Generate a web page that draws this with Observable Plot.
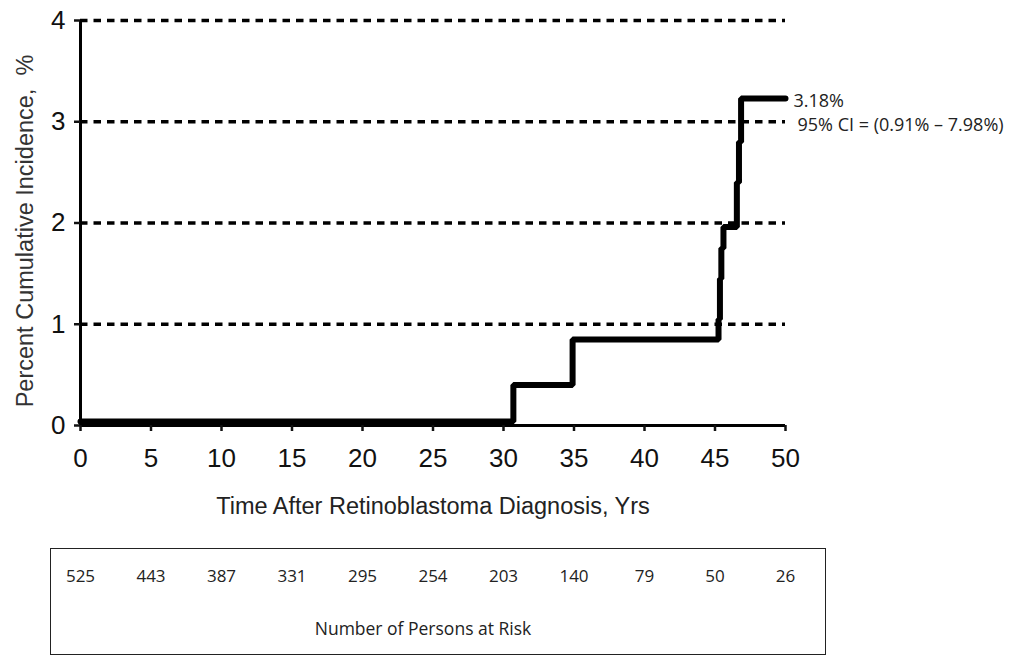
<!DOCTYPE html>
<html>
<head>
<meta charset="utf-8">
<script src="https://cdn.jsdelivr.net/npm/d3@7"></script>
<script src="https://cdn.jsdelivr.net/npm/@observablehq/plot@0.6"></script>
<style>
  html, body { margin: 0; padding: 0; background: #fff; }
  #wrap { position: relative; width: 1017px; height: 656px; }
  #risk { position: absolute; left: 50px; top: 548px; width: 774px; height: 105px; border: 1.5px solid #222; }
</style>
</head>
<body>
<div id="wrap">
  <div id="main"></div>
  <div id="risk"></div>
</div>
<script>
// Step curve (cumulative incidence, %)
const times = [0, 30.7, 34.9, 45.25, 45.35, 45.45, 45.6, 46.55, 46.7, 46.85, 50];
const incidence = [0.04, 0.40, 0.85, 1.05, 1.45, 1.75, 1.96, 2.4, 2.8, 3.23, 3.23];

const xTicks = [0, 5, 10, 15, 20, 25, 30, 35, 40, 45, 50];
const yTicks = [0, 1, 2, 3, 4];
const gridValues = [1, 2, 3, 4];

const riskTimes = [0, 5, 10, 15, 20, 25, 30, 35, 40, 45, 50];
const riskCounts = [525, 443, 387, 331, 295, 254, 203, 140, 79, 50, 26];

const annoLines = ["3.18%", "95% CI = (0.91% – 7.98%)"];

const curve = times.map((t, i) => ({t, v: incidence[i]}));
const axisFont = "'Liberation Sans', Arial, sans-serif";
const noteFont = "'Open Sans', 'Noto Sans', sans-serif";

const main = Plot.plot({
  width: 1017,
  height: 540,
  marginLeft: 80,
  marginRight: 232,
  marginTop: 20,
  marginBottom: 115,
  style: {fontFamily: axisFont, color: "#111", background: "white"},
  x: {domain: [0, 50], ticks: xTicks},
  y: {domain: [0, 4], ticks: yTicks},
  marks: [
    Plot.ruleY(gridValues, {stroke: "#000", strokeWidth: 3.6, strokeDasharray: "7.5,6"}),
    Plot.ruleX([0], {y1: 0, y2: 4, stroke: "#000", strokeWidth: 3}),
    Plot.ruleY([0], {stroke: "#000", strokeWidth: 3}),
    Plot.axisX({ticks: xTicks, tickSize: 6, tickPadding: 17, fontSize: 26, strokeWidth: 2.5, label: null, tickFormat: d => String(d)}),
    Plot.axisY({ticks: yTicks, tickSize: 6, tickPadding: 9, fontSize: 26, strokeWidth: 2.5, label: null, tickFormat: d => String(d)}),
    Plot.line(curve, {x: "t", y: "v", curve: "step-after", stroke: "#000", strokeWidth: 6, strokeLinejoin: "miter"}),
    Plot.text([annoLines[0]], {x: 50, y: 3.23, text: d => d, dx: 8, dy: 3, textAnchor: "start", fontSize: 18, fontFamily: noteFont, fill: "#222"}),
    Plot.text([annoLines[1]], {x: 50, y: 3.23, text: d => d, dx: 12, dy: 27, textAnchor: "start", fontSize: 18, fontFamily: noteFont, fill: "#222"}),
    Plot.text(["Time After Retinoblastoma Diagnosis, Yrs"], {frameAnchor: "bottom", dy: 88, text: d => d, fontSize: 23.5, fill: "#222"}),
    Plot.text(["Percent Cumulative Incidence,  %"], {frameAnchor: "left", textAnchor: "middle", dx: -55, dy: 8, rotate: -90, text: d => d, fontSize: 23.5, fill: "#333"})
  ]
});
document.getElementById("main").appendChild(main);

const riskData = riskTimes.map((t, i) => ({t, n: riskCounts[i]}));
const risk = Plot.plot({
  width: 774,
  height: 105,
  marginLeft: 29,
  marginRight: 40,
  marginTop: 0,
  marginBottom: 0,
  style: {fontFamily: "'Open Sans', sans-serif", background: "white"},
  x: {domain: [0, 50], axis: null},
  y: {domain: [0, 105], axis: null, range: [0, 105]},
  marks: [
    Plot.text(riskData, {x: "t", y: () => 27, text: d => String(d.n), fontSize: 17, fill: "#222"}),
    Plot.text(["Number of Persons at Risk"], {frameAnchor: "top", dy: 73, dx: -10, text: d => d, fontSize: 17.5, fill: "#222"})
  ]
});
document.getElementById("risk").appendChild(risk);
</script>
</body>
</html>
